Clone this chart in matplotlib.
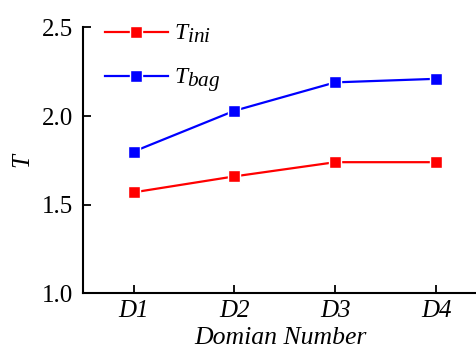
import matplotlib
matplotlib.use("Agg")
import matplotlib.pyplot as plt
import matplotlib._mathtext as _mt

categories = ["D1", "D2", "D3", "D4"]
t_ini = [1.57, 1.66, 1.74, 1.74]
t_bag = [1.80, 2.03, 2.19, 2.21]
yticks = [1.0, 1.5, 2.0, 2.5]

plt.rcParams['font.family'] = ['Liberation Serif', 'DejaVu Serif']
plt.rcParams['mathtext.fontset'] = 'custom'
plt.rcParams['mathtext.it'] = 'Liberation Serif:italic'
plt.rcParams['mathtext.rm'] = 'Liberation Serif'
# larger subscripts, as in the reference legend
_mt.SHRINK_FACTOR = 0.9

fig = plt.figure(figsize=(4.77, 3.51), dpi=100)
ax = fig.add_axes([0.1746, 0.164, 0.8254, 0.758])

x = list(range(1, len(categories) + 1))
ax.plot(x, t_ini, color='#ff0000', lw=1.6, marker='s', ms=8, mfc='#ff0000',
        mec='white', mew=1.0, label=r'$T_{ini}$')
ax.plot(x, t_bag, color='#0000ff', lw=1.6, marker='s', ms=8, mfc='#0000ff',
        mec='white', mew=1.0, label=r'$T_{bag}$')

ax.set_xlim(0.5, 4.406)
ax.set_ylim(1.0, 2.5)
ax.set_xticks(x)
ax.set_xticklabels(categories, fontstyle='italic', fontsize=18)
ax.set_yticks(yticks)
ax.set_yticklabels([f"{v:.1f}" for v in yticks], fontsize=18)
ax.tick_params(direction='in', length=6, width=1.3)
ax.tick_params(axis='x', pad=5)
ax.tick_params(axis='y', pad=7)
for s in ['top', 'right']:
    ax.spines[s].set_visible(False)
for s in ['left', 'bottom']:
    ax.spines[s].set_linewidth(1.5)

ax.set_xlabel('Domian Number', fontstyle='italic', fontsize=18.5, labelpad=3)
ax.set_ylabel('$T$', fontsize=18)
ax.yaxis.set_label_coords(-0.123, 0.5)

leg = ax.legend(loc='upper left', bbox_to_anchor=(0.055, 1.017), frameon=False,
                fontsize=17, handlelength=2.67, handletextpad=0.25,
                labelspacing=0.9, borderaxespad=0, borderpad=0)

fig.savefig('out.png', dpi=100)
